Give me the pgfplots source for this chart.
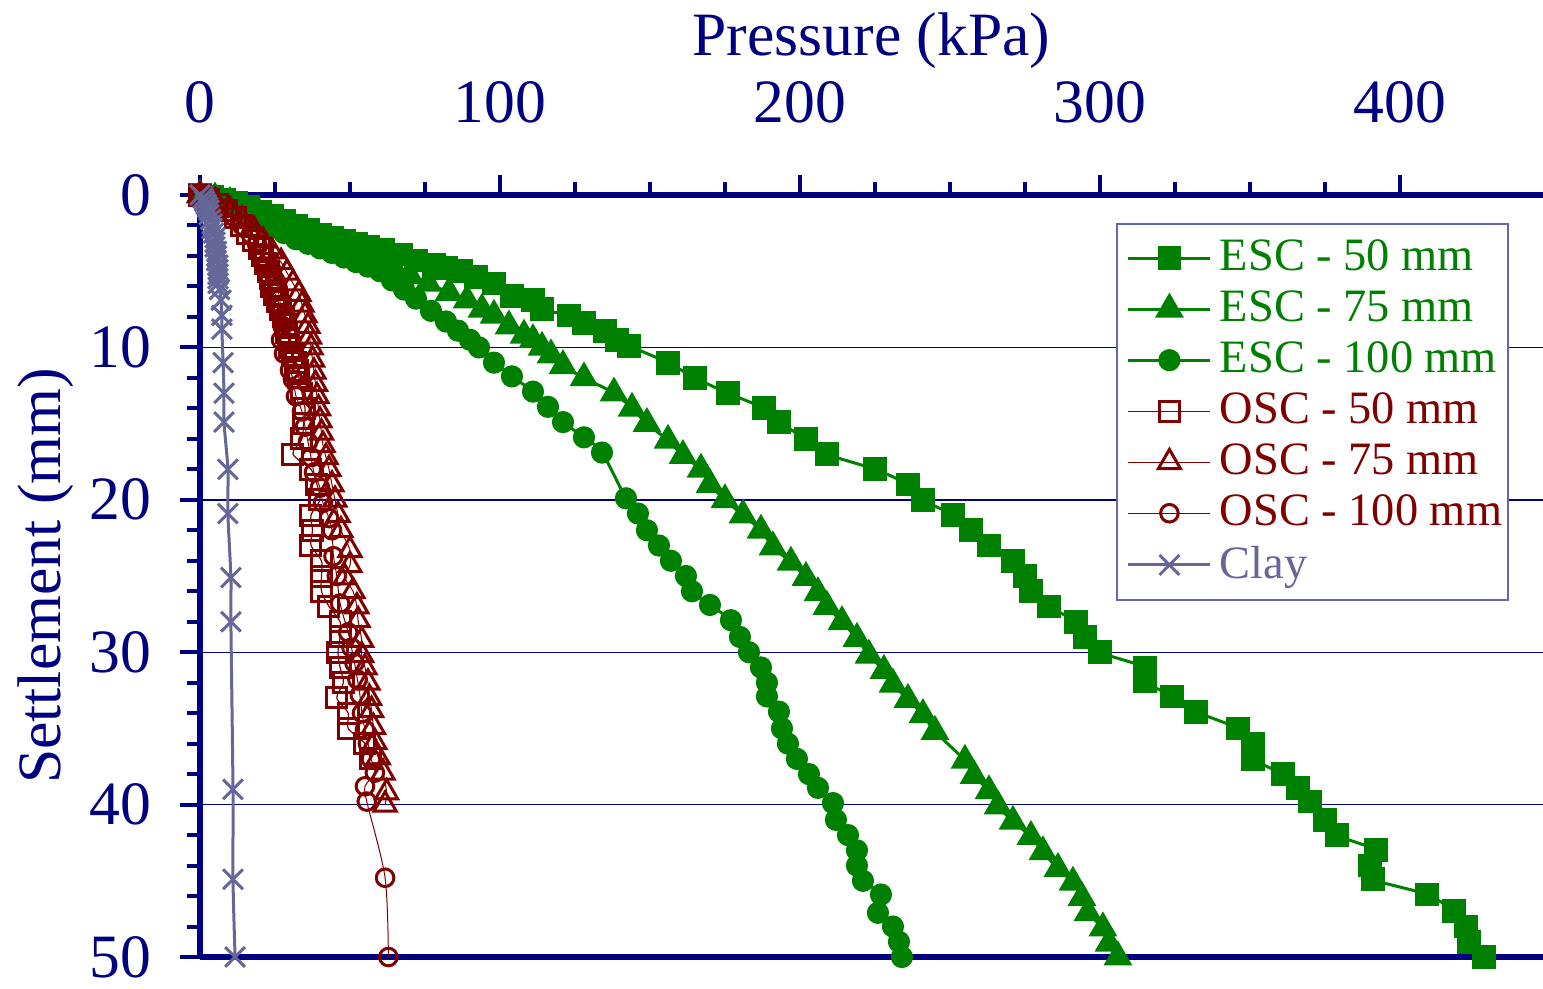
\documentclass[border=0pt]{standalone}
\usepackage{fontspec}
\setmainfont{Liberation Serif}
\usepackage{pgfplots}
\pgfplotsset{compat=1.18}
\definecolor{axnavy}{RGB}{0,0,128}
\definecolor{escgreen}{RGB}{0,128,0}
\definecolor{oscred}{RGB}{128,0,0}
\definecolor{claysl}{RGB}{102,102,153}
\newcommand{\axfont}{\fontsize{15.4}{18}\selectfont}

\begin{document}
\begin{tikzpicture}
\begin{axis}[
  scale only axis, width=335.75pt, height=190.5pt,
  xmin=0, xmax=447.7, ymin=0, ymax=50, y dir=reverse,
  axis x line*=box, axis y line*=left,
  xtick={0,100,...,400}, ytick={0,10,...,50},
  minor x tick num=3, minor y tick num=4,
  xtick pos=right, xticklabel pos=right,
  tick align=outside, major tick length=5pt, minor tick length=3.25pt,
  every tick/.style={axnavy, line width=1pt},
  axis line style={axnavy, line width=1.5pt},
  ymajorgrids, grid style={axnavy, line width=0.35pt},
  xlabel={Pressure (kPa)}, ylabel={Settlement (mm)},
  xlabel near ticks, ylabel near ticks,
  label style={font=\axfont, text=axnavy},
  ticklabel style={font=\axfont, text=axnavy},
  xticklabel shift=9.5pt,
  yticklabel style={xshift=-3.75pt},
  xlabel style={yshift=-3.75pt},
  ylabel shift=-3pt,
  /pgf/number format/assume math mode=true,
  clip=false,
  legend cell align=left,
  legend style={at={(axis description cs:0.9747,0.9633)}, anchor=north east,
    draw=axnavy!60, line width=0.4pt, fill=white,
    font=\fontsize{11.6}{13}\selectfont, row sep=-0.45pt,
    inner xsep=0.5pt, inner ysep=2pt, nodes={inner xsep=1pt}},
  legend image code/.code={\path (0pt,0pt) (23.5pt,0pt);
    \draw[mark repeat=2,mark phase=2,#1]
    plot coordinates {(2pt,0pt)(12.25pt,0pt)(22.5pt,0pt)};},
]
% ESC - 50 mm
\addplot[escgreen, line width=0.75pt, smooth, mark=square*, mark size=2.6pt,
  mark options={solid, fill=escgreen}] coordinates {
(0,0)(4,0.1)(8,0.3)(12,0.5)(16,0.8)(20,1.1)(24,1.4)(28,1.7)(32,2.0)(36,2.3)
(40,2.6)(44,2.8)(48,3.0)(52,3.2)(56,3.4)(61,3.6)(67,3.9)(72,4.3)(78,4.6)(82,4.8)
(87,5.0)(92,5.4)(98,5.8)(104,6.6)(111,6.9)(114,7.5)(123,7.9)(128,8.4)(135,8.9)(139,9.5)
(143,9.9)(156,11.0)(165,12.0)(176,13.0)(188,14.0)(193,14.9)(202,16.0)(209,17.0)(225,18.0)(236,19.0)
(241,20.0)(251,21.0)(257,22.0)(263,23.0)(271,24.0)(275,25.0)(277,26.0)(283,27.0)(292,28.0)(295,29.0)
(300,30.0)(315,31.0)(315,31.9)(324,32.9)(332,33.9)(346,35.0)(351,36.0)(351,37.0)(361,38.0)(366,38.9)
(370,39.8)(375,41.0)(379,42.0)(392,43.0)(390,44.0)(391,44.9)(409,45.9)(418,47.0)(422,48.0)(423,49.0)
(428,50.0)
};
\addlegendentry{\textcolor{escgreen}{ESC - 50 mm}}
% ESC - 75 mm
\addplot[escgreen, line width=0.75pt, smooth, mark=triangle*, mark size=3.4pt,
  mark options={solid, fill=escgreen}] coordinates {
(0,0)(5,0.2)(10,0.5)(15,0.9)(20,1.3)(25,1.7)(30,2.1)(35,2.5)(40,2.9)(45,3.3)
(50,3.7)(55,4.1)(60,4.5)(65,4.9)(70,5.3)(76,5.8)(83,6.4)(89,6.9)(94,7.5)(98,7.9)
(103,8.6)(108,9.2)(111,9.5)(114,10.0)(117,10.5)(121,11.2)(128,12.0)(138,13.0)(144,14.0)(149,15.0)
(156,16.1)(161,17.1)(167,18.0)(170,19.0)(175,20.0)(181,21.0)(187,22.0)(191,23.1)(197,24.1)(202,25.1)
(206,26.1)(209,27.0)(214,28.0)(219,29.1)(223,30.2)(228,31.2)(231,32.1)(236,33.1)(241,34.1)(245,35.2)
(255,37.1)(258,38.1)(263,39.1)(266,40.1)(271,41.1)(277,42.1)(281,43.1)(286,44.2)(291,45.1)(294,46.1)
(296,47.1)(301,48.1)(303,49.1)(306,50.0)
};
\addlegendentry{\textcolor{escgreen}{ESC - 75 mm}}
% ESC - 100 mm
\addplot[escgreen, line width=0.75pt, smooth, mark=*, mark size=2.4pt,
  mark options={solid, fill=escgreen}] coordinates {
(0,0)(4,0.3)(8,0.6)(12,0.9)(16,1.3)(20,1.7)(24,2.1)(28,2.5)(32,2.9)(36,3.2)
(40,3.5)(44,3.8)(48,4.1)(52,4.4)(56,4.7)(60,5.0)(64,5.6)(68,6.2)(72,6.8)(77,7.6)
(82,8.3)(86,8.9)(90,9.5)(93,10.0)(98,11.0)(104,11.9)(111,12.9)(116,13.9)(121,14.9)(128,15.9)
(134,16.9)(142,19.9)(146,20.9)(149,22.0)(153,23.0)(157,24.0)(162,25.0)(164,26.0)(170,26.9)(177,27.9)
(180,29.0)(183,30.0)(187,31.0)(189,32.0)(189,32.9)(193,33.9)(194,35.0)(196,36.0)(199,37.0)(203,38.0)
(206,38.9)(211,39.9)(212,41.0)(216,42.0)(219,43.0)(219,44.0)(221,45.0)(227,45.9)(226,47.1)(231,48.0)
(233,49.0)(234,50.0)
};
\addlegendentry{\textcolor{escgreen}{ESC - 100 mm}}
% OSC - 50 mm
\addplot[oscred, line width=0.3pt, smooth, mark=square, mark size=2.5pt,
  mark options={solid, line width=0.75pt}] coordinates {
(0,0)(3,0.3)(6,0.6)(9,1.0)(12,1.5)(14,2.0)(16,2.5)(18,3.0)(20,3.5)(21,4.0)
(22,4.5)(23,5.0)(23.5,5.5)(24,6.0)(25,6.5)(26,7.0)(27,7.5)(28,8.0)(28.5,8.5)(29,9.0)
(29.5,9.5)(30,10.0)(31,10.5)(32,11.0)(32.5,11.5)(33,12.0)(34,13.0)(35,14.0)(34.5,15.0)(34,16.0)
(31,17.0)(37,18.0)(39,19.0)(40,20.0)(37,21.0)(37.5,22.0)(37,23.0)(40.5,24.0)(40.5,25.0)(40.5,26.0)
(43,27.0)(46.7,28.0)(46.7,29.0)(46,30.0)(46.7,31.0)(47.8,32.0)(45.6,33.0)(49.4,34.0)(49.4,35.0)(55,36.0)
(56.7,37.0)
};
\addlegendentry{\textcolor{oscred}{OSC - 50 mm}}
% OSC - 75 mm
\addplot[oscred, line width=0.25pt, smooth, mark=triangle, mark size=3.2pt,
  mark options={solid, line width=0.75pt}] coordinates {
(0,0)(5,0.4)(10,1.0)(14,1.6)(18,2.3)(21,3.0)(24,3.7)(27,4.4)(29,5.1)(31,5.8)
(33,6.5)(34,7.2)(35,7.9)(36,8.6)(36.5,9.3)(37,10.0)(37.5,10.8)(38,11.6)(38.5,12.4)(39,13.2)
(39.5,14.0)(40,14.8)(40.5,15.6)(41,16.4)(42,17.2)(43,18.0)(44,19.0)(45,20.0)(46,21.0)(47,22.0)
(50,23.3)(50,24.3)(48.3,25.1)(51,26.0)(52.3,27.0)(52.7,27.9)(53.9,29.2)(53.9,30.2)(55,31.0)(56,32.0)
(56.5,33.0)(57.2,33.8)(57.8,34.9)(58.3,35.9)(59.4,36.9)(61,37.9)(62.2,39.2)(61.7,40.0)
};
\addlegendentry{\textcolor{oscred}{OSC - 75 mm}}
% OSC - 100 mm
\addplot[oscred, line width=0.25pt, smooth, mark=o, mark size=2.2pt,
  mark options={solid, line width=0.75pt}] coordinates {
(0,0)(4,0.4)(8,0.9)(11,1.4)(14,2.0)(17,2.6)(19,3.2)(21,3.8)(22.5,4.4)(24,5.0)
(25,5.6)(26,6.2)(26.5,6.8)(27,7.4)(27.5,8.0)(27.5,8.6)(27,9.5)(28,10.4)(30,11.5)(31,12.1)
(32,13.2)(34,14.2)(35,15.2)(36,16.2)(37,17.2)(38,18.2)(40,19.2)(41,20.2)(43,21.2)(44,22.0)
(44.5,23.7)(45.6,25.0)(46.7,26.8)(49.4,28.7)(50.5,29.7)(51.5,30.7)(52.5,31.8)(53.3,32.8)(54,34.0)(55,35.1)
(56,36.0)(57,37.0)(58.3,37.9)(55,38.8)(55.6,39.8)(61.7,44.8)(62.8,50.0)
};
\addlegendentry{\textcolor{oscred}{OSC - 100 mm}}
% Clay
\addplot[claysl, line width=0.75pt, smooth, mark=x, mark size=3.5pt,
  mark options={solid, line width=0.75pt}] coordinates {
(0,0)(1,0.2)(1.5,0.4)(2,0.6)(2.5,0.8)(3,1.0)(3,1.3)(3.5,1.6)(4,1.9)(4,2.2)
(4.5,2.5)(5,2.8)(5,3.1)(5,3.4)(5.5,3.7)(5.5,4.0)(5.5,4.3)(6,4.6)(6,4.9)(6,5.2)
(6,5.5)(6,5.8)(6.5,6.2)(7,6.9)(7.3,7.9)(7.3,8.8)(7.7,11.0)(8,13.0)(8,14.9)(9.3,18.0)
(9.3,20.9)(10.3,25.1)(10.3,28.0)(11,39.0)(11,44.9)(11.7,50.0)
};
\addlegendentry{\textcolor{claysl}{Clay}}
\end{axis}
\pgfresetboundingbox
\path[use as bounding box] ([xshift=-50pt,yshift=-7.75pt]current axis.south west)
  rectangle ([yshift=48.75pt]current axis.north east);
\end{tikzpicture}
\end{document}
